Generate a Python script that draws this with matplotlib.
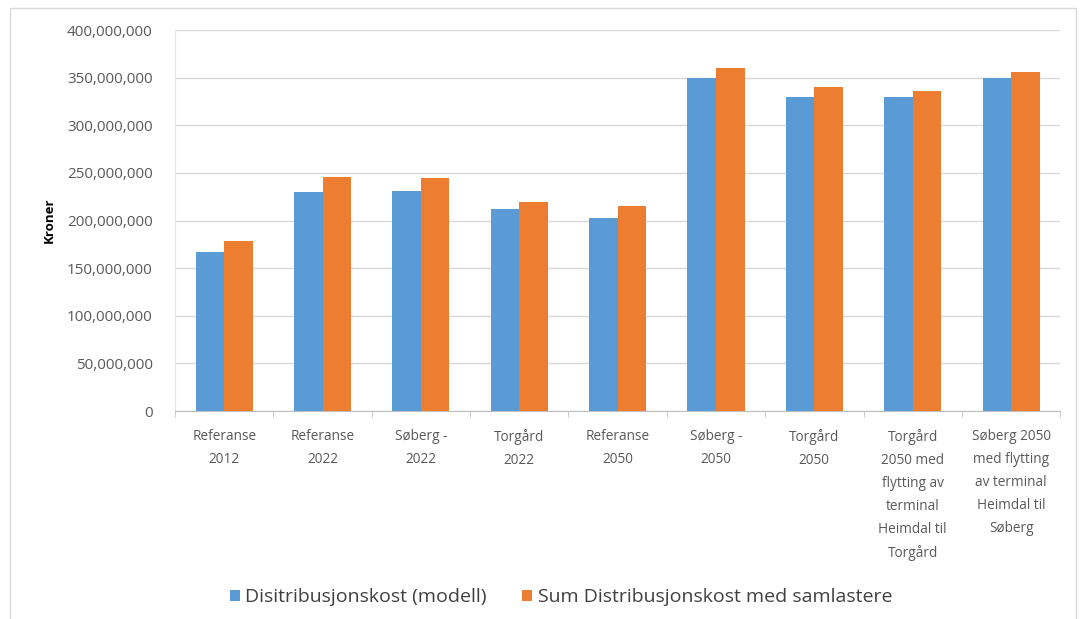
import numpy as np
import matplotlib.pyplot as plt
from matplotlib.patches import Rectangle
from matplotlib.ticker import FuncFormatter

categories = ['Referanse\n2012', 'Referanse\n2022', 'Søberg -\n2022', 'Torgård\n2022',
              'Referanse\n2050', 'Søberg -\n2050', 'Torgård\n2050',
              'Torgård\n2050 med\nflytting av\nterminal\nHeimdal til\nTorgård',
              'Søberg 2050\nmed flytting\nav terminal\nHeimdal til\nSøberg']
modell = [167e6, 230e6, 231e6, 212e6, 203e6, 350e6, 330e6, 330e6, 350e6]
samlastere = [178e6, 246e6, 245e6, 219e6, 215e6, 360e6, 340e6, 336e6, 356e6]
series_names = ['Disitribusjonskost (modell)', 'Sum Distribusjonskost med samlastere']

plt.rcParams['font.family'] = ['Open Sans', 'DejaVu Sans']
txt = '#595959'

fig = plt.figure(figsize=(10.83, 6.19), dpi=100)
ax = fig.add_axes([0.1616, 0.336, 0.8174, 0.6155])

x = np.arange(len(categories))
w = 0.29
ax.bar(x - w / 2, modell, w, color='#5B9BD5', label=series_names[0], zorder=3)
ax.bar(x + w / 2, samlastere, w, color='#ED7D31', label=series_names[1], zorder=3)

ax.set_xlim(-0.5, len(categories) - 0.5)
ax.set_ylim(0, 400e6)
ax.set_yticks(np.arange(0, 400e6 + 1, 50e6))
ax.yaxis.set_major_formatter(FuncFormatter(lambda v, p: f'{v:,.0f}'))
ax.grid(axis='y', color='#D9D9D9', linewidth=1, zorder=0)
ax.tick_params(axis='y', length=0, labelsize=11, labelcolor=txt, pad=16)

ax.set_xticks(x)
ax.set_xticklabels(categories, fontsize=9.8, color=txt, linespacing=1.72, va='top')
ax.set_xticks(np.arange(-0.5, len(categories)), minor=True)
ax.tick_params(axis='x', which='major', length=0, pad=13)
ax.tick_params(axis='x', which='minor', length=4, color='#BFBFBF')

for s in ['top', 'right']:
    ax.spines[s].set_visible(False)
ax.spines['left'].set_color('#E6E6E6')
ax.spines['bottom'].set_color('#BFBFBF')

ax.set_ylabel('Kroner', fontsize=9.5, fontweight='bold', labelpad=8)

fig.legend(loc='lower center', bbox_to_anchor=(0.518, -0.008), ncol=2, frameon=False,
           fontsize=14, handlelength=0.5, handleheight=0.5, handletextpad=0.3,
           columnspacing=1.8, labelcolor='#404040')

fig.patches.append(Rectangle((10 / 1083, -0.1), 1066 / 1083, 1.087, transform=fig.transFigure,
                             fill=False, edgecolor='#D9D9D9', linewidth=1))

fig.savefig('out.png', dpi=100)
